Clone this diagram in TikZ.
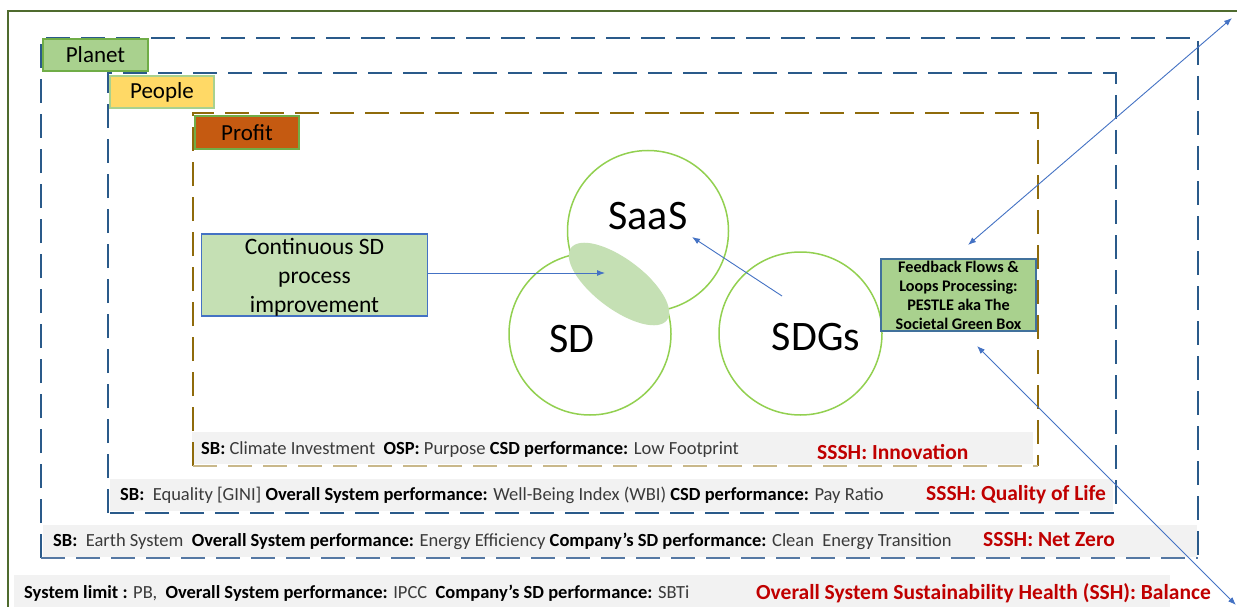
\documentclass[tikz,border=0pt]{standalone}
\usepackage{fontspec}
\setmainfont{Carlito}
\usetikzlibrary{arrows.meta,shapes.geometric}
\definecolor{outergreen}{HTML}{4F6B2E}
\definecolor{dblue}{HTML}{2A5A8A}
\definecolor{lblue}{HTML}{5578A3}
\definecolor{gold}{HTML}{8F6B0B}
\definecolor{lgold}{HTML}{C9B88A}
\definecolor{bandgrey}{HTML}{F2F2F2}
\definecolor{txtgrey}{HTML}{3A3A3A}
\definecolor{sshred}{HTML}{C00000}
\definecolor{planetfill}{HTML}{A9D18E}
\definecolor{planetdraw}{HTML}{70AD47}
\definecolor{peoplefill}{HTML}{FFD966}
\definecolor{peopledraw}{HTML}{A9D18E}
\definecolor{profitfill}{HTML}{C55A11}
\definecolor{lensgreen}{HTML}{C5E0B4}
\definecolor{circgreen}{HTML}{92D050}
\definecolor{arrowblue}{HTML}{4472C4}
\definecolor{boxblue}{HTML}{4472C4}
\definecolor{fbdraw}{HTML}{41719C}
\tikzset{
  dashbox/.style={line width=2.6pt, dash pattern=on 24pt off 11pt},
  band/.style={fill=bandgrey},
  bandtxt/.style={anchor=west, inner sep=0pt, text=txtgrey, font=\fontsize{18.5}{21}\selectfont},
  redtxt/.style={anchor=west, inner sep=0pt, text=sshred, font=\bfseries\fontsize{21.5}{25}\selectfont},
  lab/.style={line width=1.2pt, font=\fontsize{23}{27}\selectfont, text=black},
  circ/.style={circle, draw=circgreen, line width=1.5pt, inner sep=0pt},
  bigtxt/.style={inner sep=0pt, font=\fontsize{42}{48}\selectfont, text=black},
  flow/.style={draw=arrowblue, line width=0.9pt, -{Latex[length=8pt,width=6pt]}},
  flowboth/.style={draw=arrowblue, line width=0.9pt, {Latex[length=8pt,width=6pt]}-{Latex[length=8pt,width=6pt]}},
}
\newcommand{\bb}[1]{\textbf{\color{black}#1}}
\begin{document}
\begin{tikzpicture}[x=1pt,y=-1pt]
\useasboundingbox (0,0) rectangle (1237,607);
\fill[white] (0,0) rectangle (1237,607);
\clip (0,0) rectangle (1237,607);

% outer frame
\draw[outergreen, line width=2.5pt] (8,620) -- (8,11) -- (1250,11);

% grey bands
\fill[band] (192,432) rectangle (1033,464);
\fill[band] (110,479) rectangle (1113,511);
\fill[band] (43,525) rectangle (1197,557);
\fill[band] (14,575) rectangle (1170,607);

% dashed boxes
\draw[dashbox, dblue] (41,558) -- (41,38) -- (1198,38) -- (1198,558);
\draw[dashbox, lblue] (41,558) -- (1198,558);
\draw[dashbox, dblue] (108,513) -- (108,73) -- (1116,73) -- (1116,513) -- cycle;
\draw[dashbox, gold] (193,466) -- (193,113) -- (1038,113) -- (1038,466);
\draw[dashbox, lgold] (193,466) -- (1038,466);

% layer labels
\node[lab, fill=planetfill, draw=planetdraw, minimum width=105pt, minimum height=32pt, inner sep=0pt] (planet) at (95.5,55) {Planet};
\node[lab, fill=peoplefill, draw=peopledraw, minimum width=104pt, minimum height=32pt, inner sep=0pt] (people) at (162,92) {People};
\node[lab, fill=profitfill, draw=planetdraw, minimum width=104pt, minimum height=33pt, inner sep=0pt] (profit) at (247,132.5) {Profit};

% band texts
\node[bandtxt] (t1) at (201,450) {\bb{SB:} Climate Investment\ \ \bb{OSP:} Purpose \bb{CSD performance:} Low Footprint};
\node[redtxt] (r1) at (817,452) {SSSH: Innovation};
\node[bandtxt] (t2) at (120,495) {\bb{SB:}\ \ Equality [GINI] \bb{Overall System performance:} Well-Being Index (WBI) \bb{CSD performance:} Pay Ratio};
\node[redtxt] (r2) at (926,495) {SSSH: Quality of Life};
\node[bandtxt] (t3) at (53,541) {\bb{SB:}\ \ Earth System\ \ \bb{Overall System performance:} Energy Efficiency \bb{Company’s SD performance:} Clean\ \ Energy Transition};
\node[redtxt] (r3) at (983,540) {SSSH: Net Zero};
\node[bandtxt] (t4) at (24,593) {\bb{System limit :} PB,\ \ \bb{Overall System performance:} IPCC\ \ \bb{Company’s SD performance:} SBTi};
\node[redtxt] (r4) at (756,593) {Overall System Sustainability Health (SSH): Balance};

% circles
\node[circ, minimum size=161pt] (saas) at (648,231) {};
\node[circ, minimum size=162pt] (sd) at (590,334) {};
\node[circ, minimum size=163pt] (sdgs) at (800.5,333.5) {};
\node[ellipse, fill=lensgreen, minimum width=120pt, minimum height=50pt, inner sep=0pt, rotate=-37] (lens) at (619,284) {};
\node[bigtxt] (saasT) at (648,216) {SaaS};
\node[bigtxt] (sdT) at (572,339) {SD};
\node[bigtxt] (sdgsT) at (816,337) {SDGs};

% process box
\node[fill=lensgreen, draw=boxblue, line width=1.2pt, minimum width=226pt, minimum height=82pt, inner sep=0pt, align=center, font=\fontsize{23.5}{29}\selectfont] (csd) at (314.5,275) {};
\node[align=center, inner sep=0pt, font=\fontsize{23.5}{29}\selectfont] (csdT) at (314.5,277) {Continuous SD\\process\\improvement};

% feedback box
\node[fill=planetfill, draw=fbdraw, line width=1.2pt, minimum width=155pt, minimum height=72pt, inner sep=0pt, align=center, font=\bfseries\fontsize{16.2}{19}\selectfont] (fb) at (958.5,295) {Feedback Flows \&\\Loops Processing:\\PESTLE aka The\\Societal Green Box};

% connectors
\coordinate (lensIn) at (605,273);
\draw[flow] (csd.east |- lensIn) -- (lensIn);
\coordinate (sdgsIn) at (782,296);
\coordinate (saasIn) at (692,237);
\draw[flow] (sdgsIn) -- (saasIn);
\coordinate (fbTop) at (968,245);
\coordinate (farTop) at (1232,18);
\draw[flowboth] (fbTop) -- (farTop);
\coordinate (fbBot) at (977,346);
\coordinate (farBot) at (1236,605);
\draw[flowboth] (fbBot) -- (farBot);
\end{tikzpicture}
\end{document}
